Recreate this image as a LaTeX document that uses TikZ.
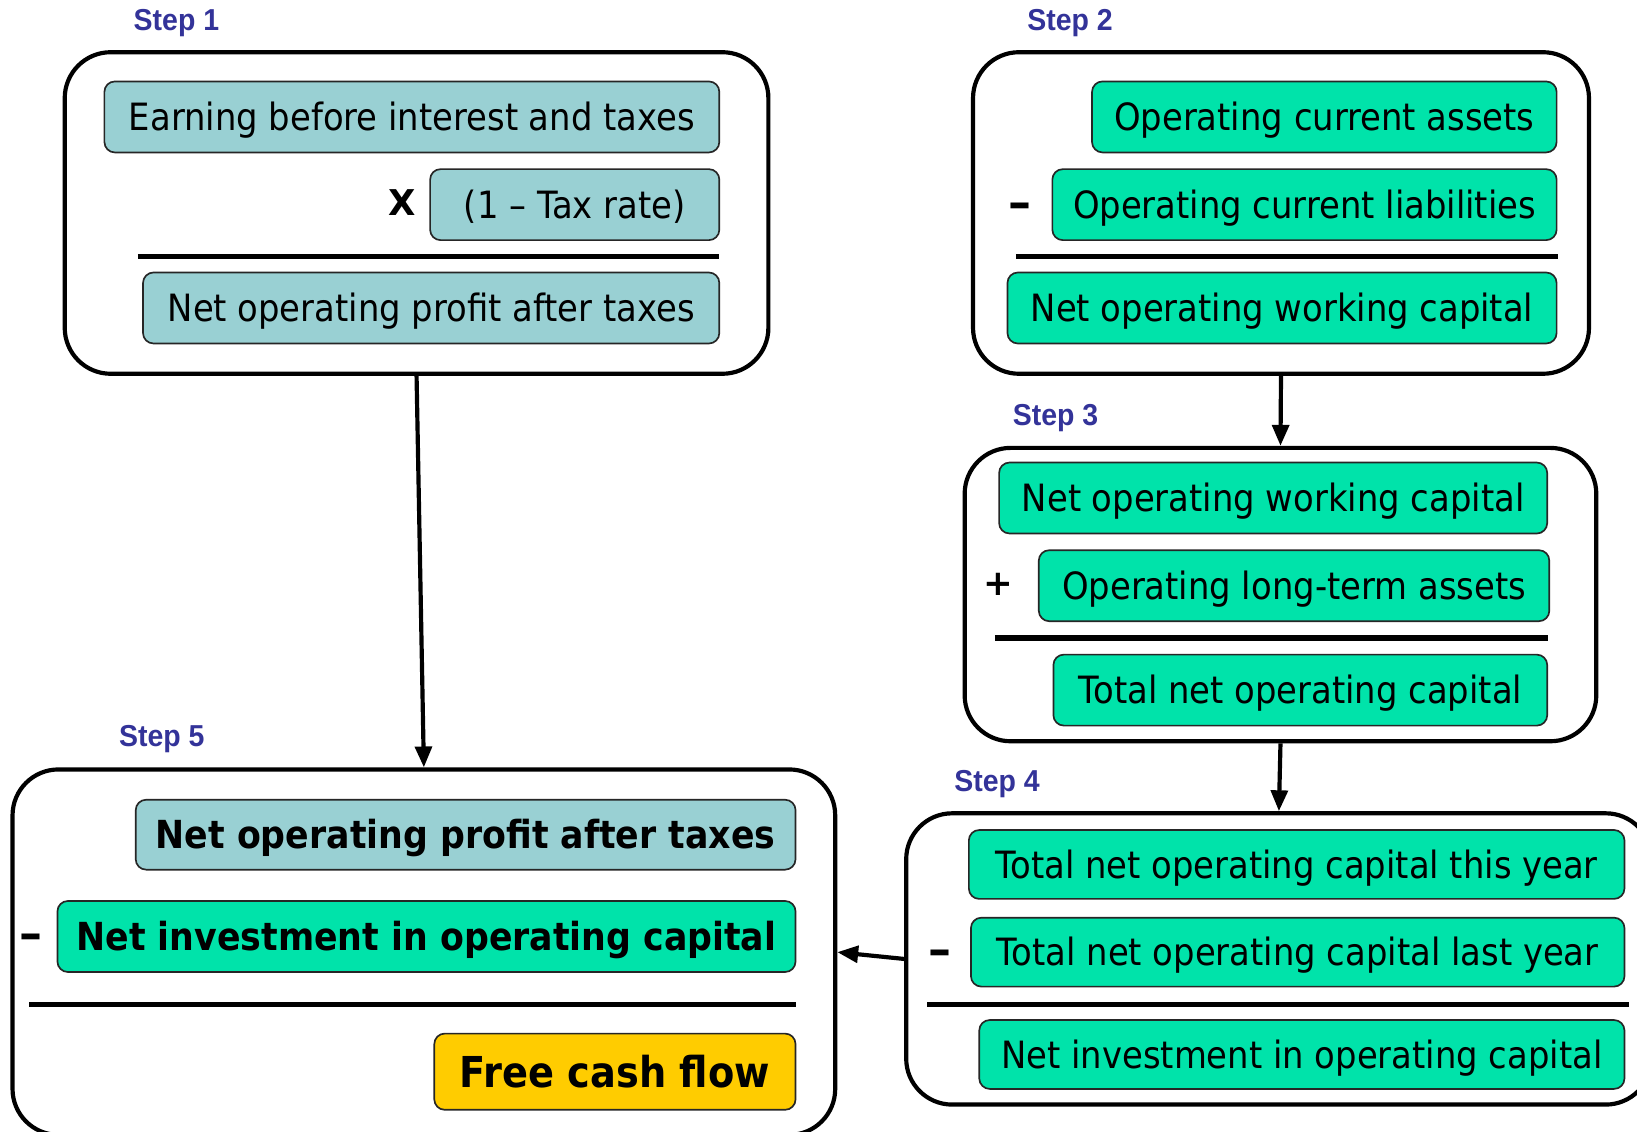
\documentclass[tikz,border=0pt]{standalone}
\usepackage{fontspec}
\setmainfont{DejaVu Sans}[FakeStretch=0.9]
\newfontfamily\labelfont{Liberation Sans}[FakeStretch=0.94]
\newfontfamily\signfont{DejaVu Sans}
\usetikzlibrary{arrows.meta}

\definecolor{tealbox}{RGB}{153,208,211}
\definecolor{greenbox}{RGB}{0,227,170}
\definecolor{goldbox}{RGB}{255,204,0}
\definecolor{steplabel}{RGB}{51,51,153}

\begin{document}
\begin{tikzpicture}[x=0.5pt,y=-0.5pt,
  panel/.style={draw, line width=2pt, rounded corners=22pt, inner sep=0pt, fill=white},
  item/.style={draw=black!85, line width=0.8pt, rounded corners=5pt, inner sep=0pt,
    minimum height=34pt, text height=13.1pt, text depth=0pt,
    font=\fontsize{18}{21}\selectfont},
  bolditem/.style={item, text height=13.6pt, font=\fontsize{18.5}{21}\selectfont\bfseries},
  tealitem/.style={item, fill=tealbox},
  greenitem/.style={item, fill=greenbox},
  steptag/.style={text=steplabel, font=\labelfont\fontsize{14.5}{17}\selectfont\bfseries},
  opsign/.style={font=\signfont\fontsize{17}{20}\selectfont\bfseries},
  minussign/.style={font=\signfont\fontsize{22}{24}\selectfont\bfseries},
  rule/.style={line width=2.5pt},
  conn/.style={line width=2pt, -{Triangle[length=10pt,width=8pt]}}
]
\useasboundingbox (0,0) rectangle (1568,1084);
\clip (0,0) rectangle (1568,1084);
\fill[white] (0,0) rectangle (1568,1084);

% ---- Panels ----
\node[panel, minimum width=337pt, minimum height=154pt] (s1) at (399,204) {};
\node[panel, minimum width=295pt, minimum height=154pt] (s2) at (1227,204) {};
\node[panel, minimum width=302.5pt, minimum height=140.5pt] (s3) at (1226.5,569.5) {};
\node[panel, minimum width=357pt, minimum height=139.5pt] (s4) at (1225,918.5) {};
\node[panel, minimum width=394pt, minimum height=175pt] (s5) at (406,912) {};

% ---- Step labels ----
\node[steptag] (t1) at (169,22) {Step 1};
\node[steptag] (t2) at (1025,22) {Step 2};
\node[steptag] (t3) at (1011,400) {Step 3};
\node[steptag] (t4) at (955,751) {Step 4};
\node[steptag] (t5) at (155,708) {Step 5};

% ---- Step 1: NOPAT ----
\node[tealitem, minimum width=294.5pt] (ebit) at (394.5,112) {Earning before interest and taxes};
\node[opsign] (times) at (385,194) {X};
\node[tealitem, minimum width=138.5pt] (tax) at (550.5,196) {(1 – Tax rate)};
\draw[rule] (132,246) -- (689,246);
\node[tealitem, minimum width=276pt] (nopat1) at (413,295) {Net operating profit after taxes};

% ---- Step 2: net operating working capital ----
\node[greenitem, minimum width=222.5pt] (oca) at (1268.5,112) {Operating current assets};
\node[minussign] (minus2) at (977,202) {–};
\node[greenitem, minimum width=241.5pt] (ocl) at (1249.5,196) {Operating current liabilities};
\draw[rule] (973,246) -- (1492,246);
\node[greenitem, minimum width=263pt] (nowc2) at (1228,295) {Net operating working capital};

% ---- Step 3: total net operating capital ----
\node[greenitem, minimum width=262.5pt] (nowc3) at (1219.5,477) {Net operating working capital};
\node[opsign] (plus3) at (956,560) {+};
\node[greenitem, minimum width=244.5pt] (olta) at (1239.5,561) {Operating long-term assets};
\draw[rule] (953,611) -- (1483,611);
\node[greenitem, minimum width=236.5pt] (tnoc3) at (1245.5,661) {Total net operating capital};

% ---- Step 4: net investment ----
\node[greenitem, minimum width=314pt, minimum height=33pt] (tnocty) at (1242,828) {Total net operating capital this year};
\node[minussign] (minus4) at (900,917) {–};
\node[greenitem, minimum width=313pt, minimum height=33pt] (tnocly) at (1243,912) {Total net operating capital last year};
\draw[rule] (888,962) -- (1560,962);
\node[greenitem, minimum width=309pt, minimum height=33pt] (nioc4) at (1247,1010) {Net investment in operating capital};

% ---- Step 5: free cash flow ----
\node[bolditem, fill=tealbox, minimum width=316pt, minimum height=33.5pt] (nopat5) at (446,799.5) {Net operating profit after taxes};
\node[minussign] (minus5) at (30,902) {–};
\node[bolditem, fill=greenbox, minimum width=353.5pt] (nioc5) at (408.5,897) {Net investment in operating capital};
\draw[rule] (28,962) -- (762,962);
\node[item, fill=goldbox, minimum width=173pt, minimum height=36.5pt, text height=14.7pt,
  font=\fontsize{20.4}{24}\selectfont\bfseries] (fcf) at (589,1026.5) {Free cash flow};

% ---- Connectors ----
\draw[conn] (s1.south) -- (s5.north);
\draw[conn] (s2.south) -- (s3.north);
\draw[conn] (s3.south) -- (s4.north);
\draw[conn] (s4.west) -- (s5.east);
\end{tikzpicture}
\end{document}
